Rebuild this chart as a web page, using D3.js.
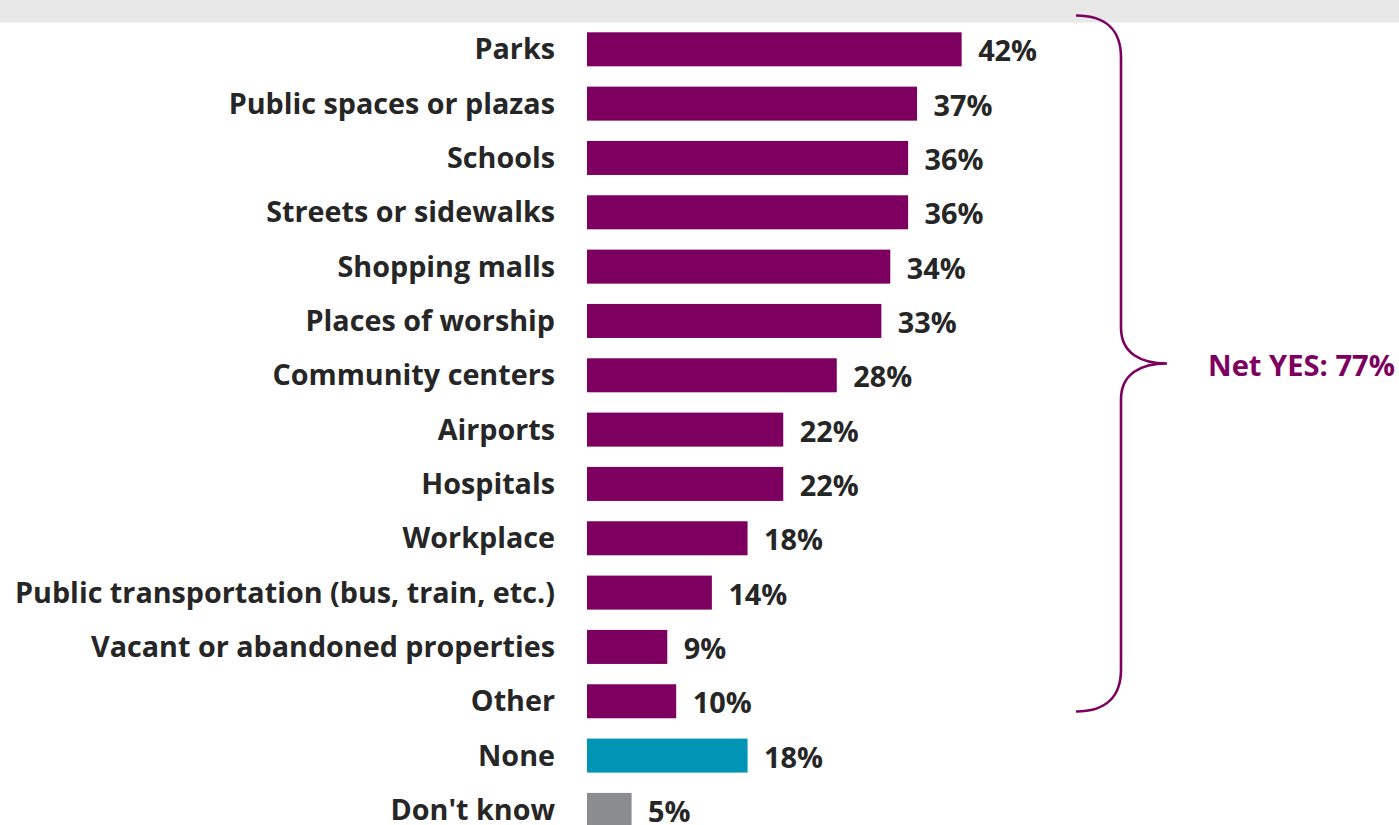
<!DOCTYPE html>
<html>
<head>
<meta charset="utf-8">
<script src="https://cdn.jsdelivr.net/npm/d3@7"></script>
<style>
html,body{margin:0;padding:0;background:#fff;}
svg{display:block;}
text{font-family:"Open Sans",Lato,sans-serif;font-weight:700;}
</style>
</head>
<body>
<svg id="chart" width="1399" height="825"></svg>
<script>
const categories = ["Parks","Public spaces or plazas","Schools","Streets or sidewalks","Shopping malls","Places of worship","Community centers","Airports","Hospitals","Workplace","Public transportation (bus, train, etc.)","Vacant or abandoned properties","Other","None","Don't know"];
const values = [42,37,36,36,34,33,28,22,22,18,14,9,10,18,5];
const groups = ["yes","yes","yes","yes","yes","yes","yes","yes","yes","yes","yes","yes","yes","none","dk"];
const netLabel = "Net YES: 77%";

const colors = {yes:"#7D0060", none:"#0095B5", dk:"#8A8C8F"};
const W = 1399, H = 825;
const svg = d3.select("#chart");

svg.append("rect").attr("x",0).attr("y",0).attr("width",W).attr("height",22.5).attr("fill","#E8E8E8");

const x = d3.scaleLinear().domain([0,1]).range([587,587+8.92]);
const step = 54.33;
const y = d3.scaleBand().domain(categories)
  .range([32.3 - step*0.187, 32.3 - step*0.187 + 15*step])
  .paddingInner(0.374).paddingOuter(0.187);

const data = categories.map((c,i)=>({c, v:values[i], g:groups[i]}));

// measure a text at a base size and return size that gives target width
function fitSize(str, target, base){
  const t = svg.append("text").attr("font-size",base).text(str);
  const w = t.node().getComputedTextLength();
  t.remove();
  return base*target/w;
}
const labelSize = fitSize("Public transportation (bus, train, etc.)", 540, 30);
const valueSize = fitSize("42%", 59, 30);
const netSize = fitSize(netLabel, 187, 30);

svg.append("g").selectAll("rect").data(data).join("rect")
  .attr("x", x(0))
  .attr("y", d=>y(d.c))
  .attr("width", d=>x(d.v)-x(0))
  .attr("height", y.bandwidth())
  .attr("fill", d=>colors[d.g]);

svg.append("g").selectAll("text").data(data).join("text")
  .attr("x", 555)
  .attr("y", d=>y(d.c)+y.bandwidth()/2)
  .attr("dy","0.35em")
  .attr("text-anchor","end")
  .attr("font-size",labelSize)
  .attr("fill","#262626")
  .text(d=>d.c);

svg.append("g").selectAll("text").data(data).join("text")
  .attr("x", d=>x(d.v)+16.5)
  .attr("y", d=>y(d.c)+y.bandwidth()/2+2)
  .attr("dy","0.35em")
  .attr("font-size",valueSize)
  .attr("fill","#262626")
  .text(d=>d.v+"%");

// brace
const bx0 = 1076, bx1 = 1121, tipX = 1167;
const yTop = 15.5, yBot = 711.5, yMid = 363.5, r = 42;
const p = d3.path();
p.moveTo(bx0, yTop);
p.bezierCurveTo(bx0+30, yTop, bx1, yTop+15, bx1, yTop+r);
p.lineTo(bx1, yMid-r+6);
p.bezierCurveTo(bx1, yMid-10, bx1+20, yMid, tipX, yMid);
p.bezierCurveTo(bx1+20, yMid, bx1, yMid+10, bx1, yMid+r-6);
p.lineTo(bx1, yBot-r);
p.bezierCurveTo(bx1, yBot-15, bx0+30, yBot, bx0, yBot);
svg.append("path").attr("d", p.toString())
  .attr("fill","none").attr("stroke",colors.yes).attr("stroke-width",2.6);

svg.append("text").attr("x",1208).attr("y",yMid+2).attr("dy","0.35em")
  .attr("font-size",netSize).attr("fill",colors.yes).text(netLabel);
</script>
</body>
</html>
